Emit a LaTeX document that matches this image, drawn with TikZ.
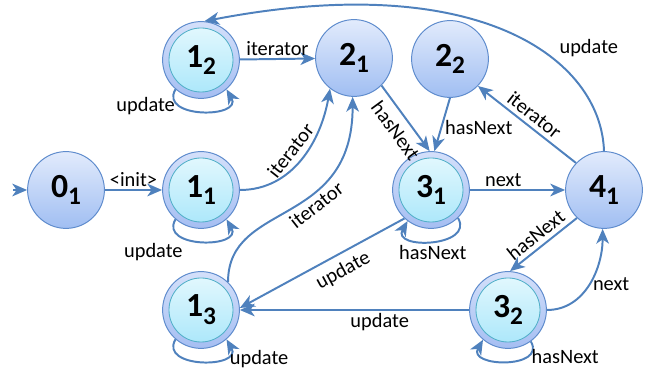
\documentclass[tikz,border=0pt]{standalone}
\usepackage{fontspec}
\setmainfont{Carlito}
\usetikzlibrary{arrows.meta}
\definecolor{stedge}{RGB}{95,140,205}
\definecolor{sttop}{RGB}{226,235,252}
\definecolor{stbot}{RGB}{160,190,242}
\definecolor{ringtop}{RGB}{212,224,250}
\definecolor{ringbot}{RGB}{165,190,242}
\definecolor{intop}{RGB}{230,249,254}
\definecolor{inbot}{RGB}{168,230,250}
\definecolor{inedge}{RGB}{80,175,200}
\definecolor{arrowblue}{RGB}{79,129,189}

\newcommand{\sn}[2]{#1\raisebox{-5.5pt}{\fontsize{18}{18}\selectfont #2}}

\begin{document}
\begin{tikzpicture}[x=0.025cm, y=-0.025cm,
  state/.style={circle, draw=stedge, line width=0.7pt, minimum size=1.92cm, inner sep=0pt,
    top color=sttop, bottom color=stbot, font=\fontsize{24}{24}\selectfont\bfseries},
  accept/.style={state, top color=ringtop, bottom color=ringbot,
    path picture={\shade[top color=intop, bottom color=inbot, draw=inedge, line width=0.6pt]
      (path picture bounding box.center) circle (0.8cm);}},
  trans/.style={draw=arrowblue, line width=1.4pt, -{Stealth[length=10.5pt,width=9pt,inset=3pt]}},
  lbl/.style={font=\fontsize{14.5}{15}\selectfont, inner sep=2pt}]
\useasboundingbox (0,0) rectangle (654,372);

% States
\node[state] (s01) at (66,190) {\sn{0}{1}};
\node[accept] (s12) at (201,60) {\sn{1}{2}};
\node[accept] (s11) at (201,190) {\sn{1}{1}};
\node[accept] (s13) at (201,310) {\sn{1}{3}};
\node[state] (s21) at (354,58) {\sn{2}{1}};
\node[state] (s22) at (450,59) {\sn{2}{2}};
\node[accept] (s31) at (431,190) {\sn{3}{1}};
\node[state] (s41) at (604,190) {\sn{4}{1}};
\node[accept] (s32) at (508,310) {\sn{3}{2}};

% Transitions
\coordinate (start) at (13,190);
\draw[trans] (start) -- (s01);
\draw[trans] (s01) -- node[lbl, above] {<init>} (s11);
\draw[trans] (s12) -- node[lbl, above] {iterator} (s21);
\draw[trans] (s11.east) to[out=0, in=260] node[lbl, sloped, above=2pt, pos=0.5] {iterator} (s21.232);
\draw[trans] (s13.46) .. controls +(0,-82) and +(0,132) .. node[lbl, sloped, below=1pt, pos=0.6] {iterator} (s21.268);
\draw[trans] (s21.-45) -- node[lbl, sloped, below=3pt, pos=0.55] {hasNext} (s31.92);
\draw[trans] (s22.270) -- node[lbl, right, pos=0.55] {hasNext} (s31.85);
\draw[trans] (s31) -- node[lbl, above, pos=0.35] {next} (s41);
\draw[trans] (s41.136) -- node[lbl, sloped, above=1pt] {iterator} (s22.-44);
\draw[trans] (s41.90) .. controls +(-3,-92) and +(275,-53) .. node[lbl, pos=0.35, anchor=south west] {update} (s12.85);
\draw[trans] (s31.227) -- node[lbl, sloped, below=3pt, pos=0.42] {update} (s13.3);
\draw[trans] (s32) -- node[lbl, below, pos=0.39] {update} (s13);
\draw[trans] (s41.226) -- node[lbl, sloped, above=1pt] {hasNext} (s32.87);
\draw[trans] (s32.east) to[out=0, in=270] node[lbl, right] {next} (s41.268);

% Loops
\draw[trans] (s12.229) to[out=240, in=300, looseness=1.7] node[lbl, left, pos=0.25] {update} (s12.311);
\draw[trans] (s11.229) to[out=240, in=300, looseness=1.7] node[lbl, anchor=north east, pos=0.35] {update} (s11.311);
\draw[trans] (s13.229) to[out=240, in=300, looseness=1.7] node[lbl, right, pos=0.8, yshift=-4pt] {update} (s13.311);
\draw[trans] (s31.314) to[out=300, in=240, looseness=1.7] node[lbl, below] {hasNext} (s31.233);
\draw[trans] (s32.306) to[out=300, in=240, looseness=1.7] node[lbl, right, pos=0.25] {hasNext} (s32.230);
\end{tikzpicture}
\end{document}
